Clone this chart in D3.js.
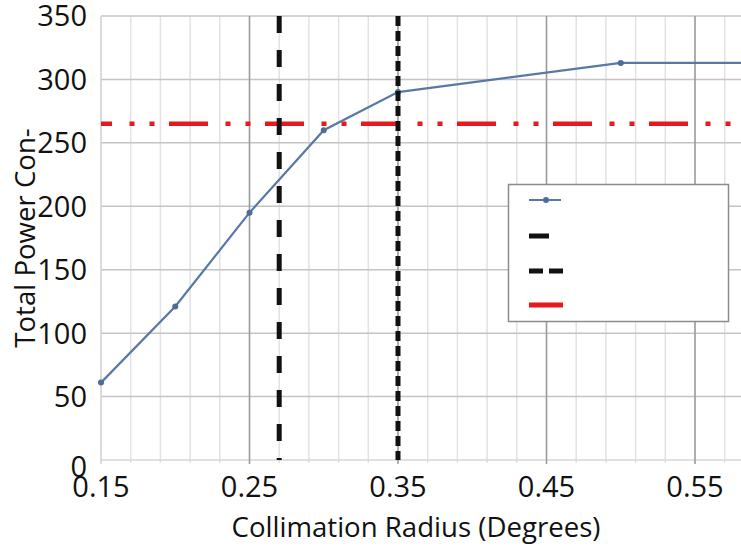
<!DOCTYPE html>
<html>
<head>
<meta charset="utf-8">
<script src="https://cdn.jsdelivr.net/npm/d3@7"></script>
<style>
  body { margin: 0; background: #fff; }
  svg { display: block; font-family: "Open Sans", sans-serif; }
</style>
</head>
<body>
<div id="chart"></div>
<script>
// chart data
const radius = [0.15, 0.20, 0.25, 0.30, 0.35, 0.50, 0.60];
const power = [61, 121, 195, 260, 290, 313, 313];
const limitRadii = [0.27, 0.35];
const threshold = 265;
const xTickValues = [0.15, 0.25, 0.35, 0.45, 0.55];
const yTickValues = [0, 50, 100, 150, 200, 250, 300, 350];
const minorStep = 0.02;

const width = 741, height = 546;

const svg = d3.select("#chart").append("svg")
  .attr("width", width)
  .attr("height", height);

const x = d3.scaleLinear().domain([0.15, 0.59]).range([101, 754.4]);
const y = d3.scaleLinear().domain([0, 350]).range([460, 16]);

const plotTop = y(350), plotBottom = y(0), plotLeft = x(0.15);

// vertical minor grid
const minor = d3.range(0.15, 0.5901, minorStep);
svg.append("g").selectAll("line")
  .data(minor)
  .enter().append("line")
  .attr("x1", d => x(d)).attr("x2", d => x(d))
  .attr("y1", plotTop).attr("y2", plotBottom + 3)
  .attr("stroke", "#e2e2e2")
  .attr("stroke-width", 1.5);

// horizontal grid
svg.append("g").selectAll("line")
  .data(yTickValues)
  .enter().append("line")
  .attr("x1", plotLeft).attr("x2", width)
  .attr("y1", d => y(d)).attr("y2", d => y(d))
  .attr("stroke", d => d === 0 ? "#d6d6d6" : "#c4c4c4")
  .attr("stroke-width", 1.5);

// vertical major grid
svg.append("g").selectAll("line")
  .data(xTickValues)
  .enter().append("line")
  .attr("x1", d => x(d)).attr("x2", d => x(d))
  .attr("y1", plotTop).attr("y2", plotBottom + 4)
  .attr("stroke", d => d === 0.15 ? "#d6d6d6" : "#9a9a9a")
  .attr("stroke-width", 1.5);

// threshold line (red dash dot dot)
svg.append("line")
  .attr("x1", plotLeft).attr("x2", width)
  .attr("y1", y(threshold)).attr("y2", y(threshold))
  .attr("stroke", "#e8191c")
  .attr("stroke-width", 4.5)
  .attr("stroke-dasharray", "39,17.5,5,15,5,14.5")
  .attr("stroke-dashoffset", 28);

// power curve
const line = d3.line()
  .x((d, i) => x(radius[i]))
  .y(d => y(d));

svg.append("path")
  .datum(power)
  .attr("d", line)
  .attr("fill", "none")
  .attr("stroke", "#5878a6")
  .attr("stroke-width", 2.2);

svg.append("g").selectAll("circle")
  .data(power)
  .enter().append("circle")
  .attr("cx", (d, i) => x(radius[i]))
  .attr("cy", d => y(d))
  .attr("r", 3)
  .attr("fill", "#4d6d99");

// vertical limit lines
const dashes = ["17,17", "10,5"];
svg.append("g").selectAll("line")
  .data(limitRadii)
  .enter().append("line")
  .attr("x1", d => x(d)).attr("x2", d => x(d))
  .attr("y1", plotTop).attr("y2", plotBottom)
  .attr("stroke", "#111")
  .attr("stroke-width", 5)
  .attr("stroke-dasharray", (d, i) => dashes[i]);

// y tick labels
svg.append("g").selectAll("text")
  .data(yTickValues)
  .enter().append("text")
  .attr("x", 87)
  .attr("y", d => y(d) + (d === 0 ? 7 : 0))
  .attr("dy", "0.36em")
  .attr("text-anchor", "end")
  .attr("font-size", 29)
  .attr("fill", "#111")
  .text(d => d);

// x tick labels
svg.append("g").selectAll("text")
  .data(xTickValues)
  .enter().append("text")
  .attr("x", d => x(d))
  .attr("y", 497)
  .attr("text-anchor", "middle")
  .attr("font-size", 29)
  .attr("fill", "#111")
  .text(d => d.toFixed(2));

// axis titles
svg.append("text")
  .attr("x", 416).attr("y", 537)
  .attr("text-anchor", "middle")
  .attr("font-size", 27.6)
  .attr("fill", "#111")
  .text("Collimation Radius (Degrees)");

svg.append("text")
  .attr("transform", "translate(35,238) rotate(-90)")
  .attr("text-anchor", "middle")
  .attr("font-size", 27.6)
  .attr("fill", "#111")
  .text("Total Power Con-");

// legend (no labels)
const legend = svg.append("g");
legend.append("rect")
  .attr("x", 508.5).attr("y", 184.5)
  .attr("width", 220).attr("height", 137)
  .attr("fill", "#fff")
  .attr("stroke", "#8c8c8c")
  .attr("stroke-width", 1.5);

const legendRows = [
  { y: 200, stroke: "#5878a6", w: 2, dash: null, len: 32, marker: true },
  { y: 236, stroke: "#111", w: 5, dash: null, len: 20 },
  { y: 271, stroke: "#111", w: 5, dash: "14,6", len: 34 },
  { y: 305, stroke: "#e8191c", w: 5, dash: null, len: 34 }
];
legendRows.forEach(r => {
  legend.append("line")
    .attr("x1", 529).attr("x2", 529 + r.len)
    .attr("y1", r.y).attr("y2", r.y)
    .attr("stroke", r.stroke)
    .attr("stroke-width", r.w)
    .attr("stroke-dasharray", r.dash);
  if (r.marker) {
    legend.append("circle")
      .attr("cx", 546).attr("cy", r.y).attr("r", 3)
      .attr("fill", "#4d6d99");
  }
});
</script>
</body>
</html>
